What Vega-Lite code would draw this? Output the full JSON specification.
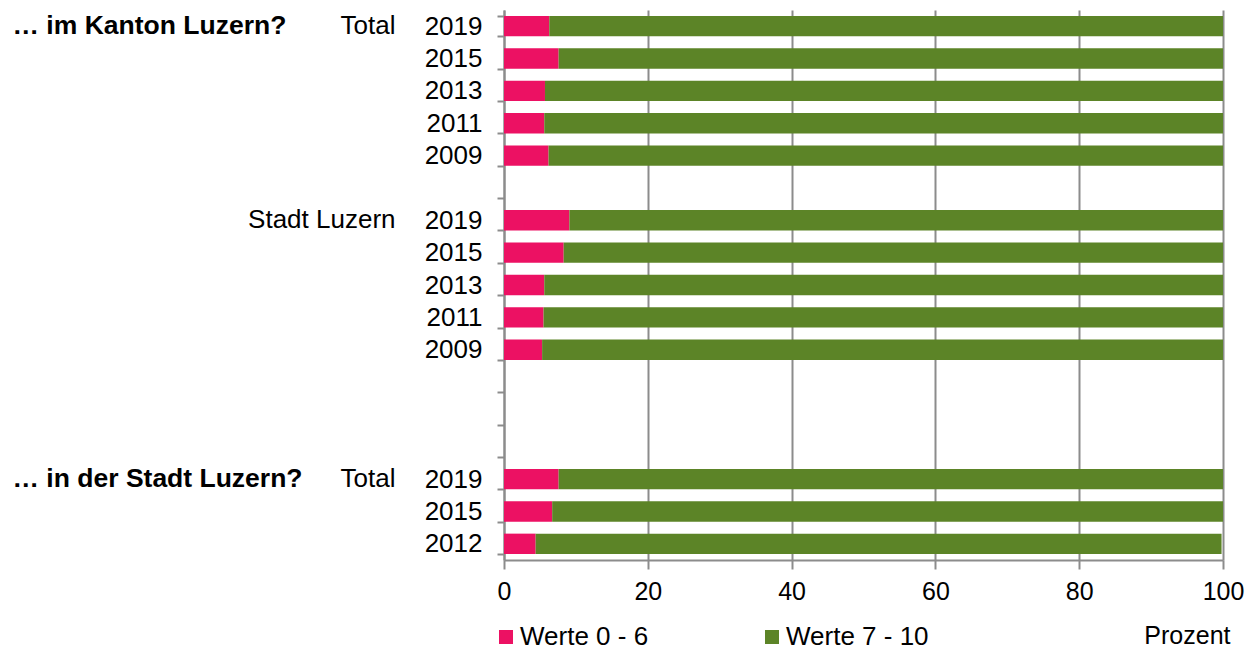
{
  "$schema": "https://vega.github.io/schema/vega-lite/v6.json",
  "width": 719,
  "height": 550,
  "autosize": {"type": "none"},
  "padding": {"left": 504, "top": 10, "right": 26, "bottom": 90},
  "config": {
    "font": "Liberation Sans",
    "view": {"stroke": null},
    "axis": {"labelFont": "Liberation Sans", "titleFont": "Liberation Sans", "labelColor": "#000000", "titleColor": "#000000", "titleFontWeight": "normal"},
    "legend": {"labelFont": "Liberation Sans", "labelColor": "#000000"}
  },
  "data": {
    "values": [
      {"slot": "01|2019|Total|… im Kanton Luzern?", "category": "Werte 0 - 6", "value": 6.3},
      {"slot": "01|2019|Total|… im Kanton Luzern?", "category": "Werte 7 - 10", "value": 93.7},
      {"slot": "02|2015||", "category": "Werte 0 - 6", "value": 7.6},
      {"slot": "02|2015||", "category": "Werte 7 - 10", "value": 92.4},
      {"slot": "03|2013||", "category": "Werte 0 - 6", "value": 5.7},
      {"slot": "03|2013||", "category": "Werte 7 - 10", "value": 94.3},
      {"slot": "04|2011||", "category": "Werte 0 - 6", "value": 5.6},
      {"slot": "04|2011||", "category": "Werte 7 - 10", "value": 94.4},
      {"slot": "05|2009||", "category": "Werte 0 - 6", "value": 6.2},
      {"slot": "05|2009||", "category": "Werte 7 - 10", "value": 93.8},
      {"slot": "07|2019|Stadt Luzern|", "category": "Werte 0 - 6", "value": 9.1},
      {"slot": "07|2019|Stadt Luzern|", "category": "Werte 7 - 10", "value": 90.9},
      {"slot": "08|2015||", "category": "Werte 0 - 6", "value": 8.3},
      {"slot": "08|2015||", "category": "Werte 7 - 10", "value": 91.7},
      {"slot": "09|2013||", "category": "Werte 0 - 6", "value": 5.6},
      {"slot": "09|2013||", "category": "Werte 7 - 10", "value": 94.4},
      {"slot": "10|2011||", "category": "Werte 0 - 6", "value": 5.5},
      {"slot": "10|2011||", "category": "Werte 7 - 10", "value": 94.5},
      {"slot": "11|2009||", "category": "Werte 0 - 6", "value": 5.3},
      {"slot": "11|2009||", "category": "Werte 7 - 10", "value": 94.7},
      {"slot": "15|2019|Total|… in der Stadt Luzern?", "category": "Werte 0 - 6", "value": 7.6},
      {"slot": "15|2019|Total|… in der Stadt Luzern?", "category": "Werte 7 - 10", "value": 92.4},
      {"slot": "16|2015||", "category": "Werte 0 - 6", "value": 6.7},
      {"slot": "16|2015||", "category": "Werte 7 - 10", "value": 93.3},
      {"slot": "17|2012||", "category": "Werte 0 - 6", "value": 4.4},
      {"slot": "17|2012||", "category": "Werte 7 - 10", "value": 95.4}
    ]
  },
  "layer": [
    {
      "mark": {"type": "bar"},
      "encoding": {
        "y": {
          "field": "slot",
          "type": "nominal",
          "sort": null,
          "scale": {
            "domain": ["01|2019|Total|… im Kanton Luzern?", "02|2015||", "03|2013||", "04|2011||", "05|2009||", "06|||", "07|2019|Stadt Luzern|", "08|2015||", "09|2013||", "10|2011||", "11|2009||", "12|||", "13|||", "14|||", "15|2019|Total|… in der Stadt Luzern?", "16|2015||", "17|2012||"],
            "paddingInner": 0.37,
            "paddingOuter": 0.185
          },
          "axis": {
            "orient": "left",
            "title": null,
            "labelExpr": "split(datum.label, '|')[1]",
            "labelFontSize": 26,
            "labelPadding": 15,
            "tickBand": "extent",
            "tickSize": 7,
            "tickWidth": 2,
            "tickColor": "#8c8c8c",
            "domainColor": "#8c8c8c",
            "domainWidth": 2,
            "grid": false
          }
        },
        "x": {
          "field": "value",
          "type": "quantitative",
          "stack": "zero",
          "scale": {"domain": [0, 100], "nice": false},
          "axis": {
            "values": [0, 20, 40, 60, 80, 100],
            "title": "Prozent",
            "titleFontSize": 25,
            "titleAnchor": "end",
            "titleAlign": "right",
            "titleBaseline": "alphabetic",
            "titleX": 726,
            "titleY": 83,
            "labelFontSize": 25,
            "labelPadding": 10,
            "labelFlush": false,
            "tickSize": 9,
            "tickWidth": 2,
            "tickColor": "#8c8c8c",
            "domainColor": "#8c8c8c",
            "domainWidth": 2,
            "grid": true,
            "gridColor": "#8c8c8c",
            "gridWidth": 2
          }
        },
        "color": {
          "field": "category",
          "type": "nominal",
          "scale": {"domain": ["Werte 0 - 6", "Werte 7 - 10"], "range": ["#ec1163", "#5c8427"]},
          "legend": {
            "title": null,
            "orient": "none",
            "direction": "horizontal",
            "columns": 2,
            "legendX": -11,
            "legendY": 614,
            "padding": 0,
            "symbolType": "square",
            "symbolSize": 196,
            "symbolStrokeWidth": 0,
            "labelFontSize": 26,
            "labelOffset": 1,
            "labelLimit": 300,
            "columnPadding": 110
          }
        },
        "order": {"field": "category", "sort": "ascending"}
      }
    },
    {
      "mark": {"type": "text", "text": ""},
      "encoding": {
        "y": {
          "field": "slot",
          "type": "nominal",
          "sort": null,
          "axis": {
            "orient": "left",
            "title": null,
            "labelExpr": "split(datum.label, '|')[2]",
            "labelFontSize": 26,
            "labelPadding": 109,
            "ticks": false,
            "tickSize": 0,
            "domain": false,
            "grid": false
          }
        }
      }
    },
    {
      "mark": {"type": "text", "text": ""},
      "encoding": {
        "y": {
          "field": "slot",
          "type": "nominal",
          "sort": null,
          "axis": {
            "orient": "left",
            "title": null,
            "labelExpr": "split(datum.label, '|')[3]",
            "labelFontSize": 26.5,
            "labelFontWeight": "bold",
            "labelAlign": "left",
            "labelPadding": 492,
            "labelLimit": 400,
            "ticks": false,
            "tickSize": 0,
            "domain": false,
            "grid": false
          }
        }
      }
    }
  ],
  "resolve": {"axis": {"y": "independent"}}
}
